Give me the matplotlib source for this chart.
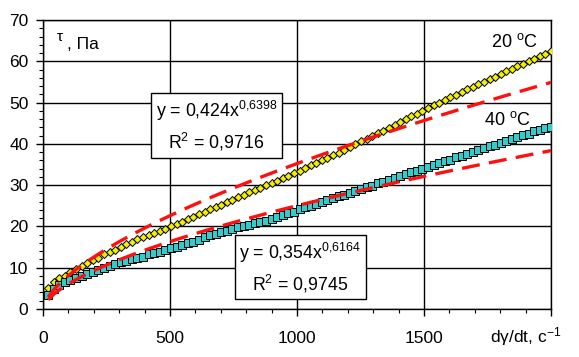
import matplotlib
matplotlib.use('Agg')
import matplotlib.pyplot as plt
import numpy as np

plt.rcParams['font.family'] = ['Liberation Sans', 'DejaVu Sans']
plt.rcParams['mathtext.default'] = 'regular'

# shear rate, 1/s
rate = [20, 42, 64, 86, 108, 130, 152, 174, 196, 218,
        240, 262, 284, 306, 328, 350, 372, 394, 416, 438,
        460, 482, 504, 526, 548, 570, 592, 614, 636, 658,
        680, 702, 724, 746, 768, 790, 812, 834, 856, 878,
        900, 922, 944, 966, 988, 1010, 1032, 1054, 1076, 1098,
        1120, 1142, 1164, 1186, 1208, 1230, 1252, 1274, 1296, 1318,
        1340, 1362, 1384, 1406, 1428, 1450, 1472, 1494, 1516, 1538,
        1560, 1582, 1604, 1626, 1648, 1670, 1692, 1714, 1736, 1758,
        1780, 1802, 1824, 1846, 1868, 1890, 1912, 1934, 1956, 1978,
        2000]

# shear stress at 20 C, Pa
tau20 = [5.0, 6.5, 7.5, 8.1, 8.9, 9.7, 10.5, 11.2, 11.8, 12.4,
         13.2, 13.8, 14.4, 15.1, 15.7, 16.3, 17.0, 17.5, 17.8, 18.4,
         19.0, 19.4, 20.2, 20.6, 21.0, 21.8, 22.4, 23.0, 23.5, 24.1,
         24.7, 25.3, 25.9, 26.5, 27.1, 27.7, 28.3, 28.8, 29.4, 30.0,
         30.6, 31.1, 31.7, 32.3, 32.9, 33.5, 34.2, 34.8, 35.4, 36.0,
         36.6, 37.3, 37.9, 38.5, 39.2, 39.9, 40.6, 41.2, 41.9, 42.6,
         43.2, 43.9, 44.6, 45.2, 46.0, 46.7, 47.3, 48.0, 48.7, 49.4,
         50.0, 50.7, 51.3, 51.9, 52.6, 53.2, 53.8, 54.5, 55.1, 55.7,
         56.3, 57.0, 57.6, 58.2, 58.8, 59.4, 60.0, 60.6, 61.2, 61.8,
         62.4]

# shear stress at 40 C, Pa
tau40 = [3.5, 4.8, 5.9, 6.5, 7.0, 7.4, 7.9, 8.4, 9.0, 9.5,
         9.9, 10.4, 11.0, 11.3, 11.7, 12.0, 12.4, 12.7, 13.2, 13.5,
         13.9, 14.4, 14.8, 15.0, 15.6, 16.0, 16.3, 16.7, 17.4, 17.9,
         18.1, 18.6, 18.9, 19.4, 19.8, 20.1, 20.4, 20.8, 21.1, 21.4,
         21.8, 22.2, 22.7, 23.2, 23.6, 24.1, 24.6, 25.0, 25.5, 25.9,
         26.4, 26.8, 27.3, 27.7, 28.1, 28.6, 29.0, 29.5, 29.9, 30.4,
         30.8, 31.3, 31.8, 32.2, 32.6, 33.1, 33.5, 34.0, 34.4, 34.9,
         35.3, 35.8, 36.2, 36.7, 37.1, 37.6, 38.0, 38.5, 38.9, 39.4,
         39.8, 40.3, 40.7, 41.2, 41.6, 42.1, 42.5, 43.0, 43.4, 43.8,
         44.2]

# power-law trendlines (from the chart labels)
a20, b20, r2_20 = 0.424, 0.6398, 0.9716
a40, b40, r2_40 = 0.354, 0.6164, 0.9745

def comma(v):
    return str(v).replace('.', ',')

def eq_label(a, b, r2):
    return 'y = %sx$^{%s}$\nR$^{2}$ = %s' % (comma(a), comma(b).replace(',', '{,}'), comma(r2))

fig = plt.figure(figsize=(5.79, 3.57), dpi=100)
ax = fig.add_axes([0.0743, 0.1345, 0.8773, 0.8095])

x = np.array(rate, dtype=float)
ax.plot(x, a20 * x ** b20, color='#FF1010', lw=2.4, dashes=(5.4, 2.8), zorder=4)
ax.plot(x, a40 * x ** b40, color='#FF1010', lw=2.4, dashes=(5.4, 2.8), zorder=4)
ax.plot(rate, tau20, ls='none', marker='D', ms=4.2, mfc='#F0F000', mec='black', mew=0.7, zorder=3)
ax.plot(rate, tau40, ls='none', marker='s', ms=5.2, mfc='#33CCCC', mec='black', mew=0.7, zorder=3)

ax.set_xlim(0, 2000)
ax.set_ylim(0, 70)
ax.set_xticks([0, 500, 1000, 1500, 2000])
ax.set_xticklabels(['0', '500', '1000', '1500', ''])
ax.set_xticks(np.arange(0, 2001, 100), minor=True)
ax.set_yticks(np.arange(0, 71, 10))
ax.set_yticks(np.arange(0, 71, 2), minor=True)
ax.grid(True, which='major', color='black', lw=1.0)
ax.set_axisbelow(True)
for s in ax.spines.values():
    s.set_color('black')
    s.set_linewidth(1.0)
ax.tick_params(which='major', direction='out', length=5, width=1, labelsize=12.5, color='black')
ax.tick_params(which='minor', direction='out', length=3, width=0.8, color='black')
ax.tick_params(axis='x', pad=11)
ax.tick_params(axis='y', pad=5.5)

# axis titles in the corners
ax.text(0.028, 0.94, 'τ', transform=ax.transAxes, fontsize=11, ha='left', va='center')
ax.text(0.047, 0.915, ', Па', transform=ax.transAxes, fontsize=12.5, ha='left', va='center')
ax.text(1.02, -0.095, 'dγ/dt, с$^{-1}$', transform=ax.transAxes, fontsize=12.5, ha='right', va='center')

ax.text(0.975, 0.925, '20 $^{o}$C', transform=ax.transAxes, fontsize=13, ha='right', va='center')
ax.text(0.96, 0.655, '40 $^{o}$C', transform=ax.transAxes, fontsize=13, ha='right', va='center')

box = dict(boxstyle='square,pad=0.25', fc='white', ec='black', lw=1)
ax.text(0.3415, 0.633, eq_label(a20, b20, r2_20), transform=ax.transAxes, fontsize=12.8,
        ha='center', va='center', multialignment='center', linespacing=1.45, bbox=box, zorder=6)
ax.text(0.506, 0.142, eq_label(a40, b40, r2_40), transform=ax.transAxes, fontsize=12.8,
        ha='center', va='center', multialignment='center', linespacing=1.45, bbox=box, zorder=6)

fig.savefig('out.png', dpi=100)
